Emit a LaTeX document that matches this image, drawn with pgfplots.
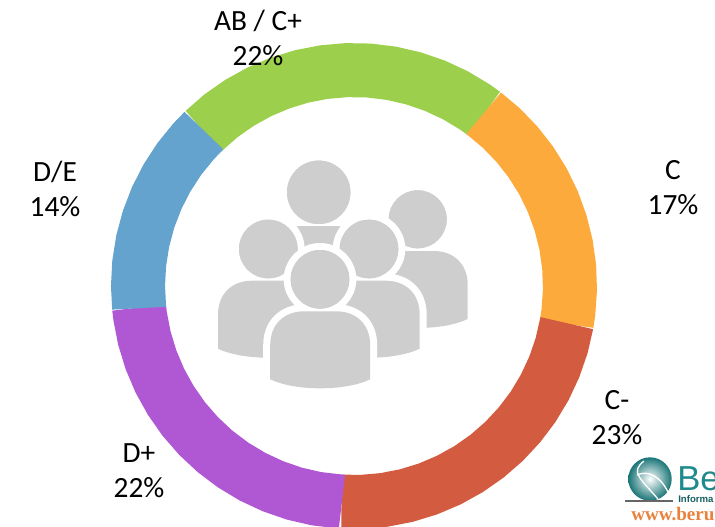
\documentclass[border=0pt]{standalone}
\usepackage{pgfplots}
\pgfplotsset{compat=1.18}
\usepgfplotslibrary{polar}
\usepackage{fontspec}
\setmainfont{Carlito}
\newfontfamily\logofont{Liberation Sans}
\newfontfamily\logoserif{Liberation Serif}

\definecolor{ringgreen}{HTML}{9CCF4C}
\definecolor{ringorange}{HTML}{FDAA3C}
\definecolor{ringred}{HTML}{D35B3F}
\definecolor{ringpurple}{HTML}{B058D4}
\definecolor{ringblue}{HTML}{64A3CE}
\definecolor{icongray}{HTML}{CECECE}
\definecolor{logoteal}{HTML}{1F8A8C}
\definecolor{logoorange}{HTML}{E8823C}

% one person of the icon: body centre, body top, head x, y, radius
\newcommand{\person}[5]{%
  \path[fill=icongray,preaction={draw=white,line width=10.5pt}]
    (#1-50,#2+68) -- (#1-50,#2+34)
    .. controls (#1-50,#2+13) and (#1-36,#2) .. (#1-16,#2)
    -- (#1+16,#2)
    .. controls (#1+36,#2) and (#1+50,#2+13) .. (#1+50,#2+34)
    -- (#1+50,#2+68)
    .. controls (#1+25,#2+80) and (#1-25,#2+80) .. cycle
    (#3,#4) circle (#5);
  \fill[icongray] (#3,#4) circle (#5);
}

\begin{document}
\begin{tikzpicture}
\useasboundingbox (0,0) rectangle (536.25pt,-394.5pt);
\clip (0,0) rectangle (536.25pt,-394.5pt);

\begin{polaraxis}[
  at={(265.5pt,-214.5pt)},
  anchor=center,
  scale only axis,
  width=364.5pt,
  height=364.5pt,
  xmin=0,xmax=360,
  ymin=0,ymax=243,
  hide axis,
  clip=false]
\addplot[no marks,ringgreen,line width=40.5pt] coordinates {
(134.2,216) (128,216) (122,216) (116,216) (110,216) (104,216) (98,216) (92,216)
(86,216) (80,216) (74,216) (68,216) (62,216) (56,216) (52.9,216)};
\addplot[no marks,ringorange,line width=40.5pt] coordinates {
(53.1,216) (47,216) (41,216) (35,216) (29,216) (23,216) (17,216) (11,216)
(5,216) (-1,216) (-7,216) (-10.1,216)};
\addplot[no marks,ringred,line width=40.5pt] coordinates {
(350.1,216) (344,216) (338,216) (332,216) (326,216) (320,216) (314,216) (308,216)
(302,216) (296,216) (290,216) (284,216) (278,216) (272,216) (266.7,216)};
\addplot[no marks,ringpurple,line width=40.5pt] coordinates {
(266.8,216) (260,216) (254,216) (248,216) (242,216) (236,216) (230,216) (224,216)
(218,216) (212,216) (206,216) (200,216) (194,216) (188,216) (185.7,216)};
\addplot[no marks,ringblue,line width=40.5pt] coordinates {
(185.9,216) (180,216) (174,216) (168,216) (162,216) (156,216) (150,216) (144,216)
(138,216) (134,216)};
\end{polaraxis}

\begin{scope}[x=0.75pt,y=-0.75pt]
% people icon, back to front
\person{318.7}{226}{318.7}{192.3}{31.7}
\person{417.7}{251}{417.7}{219.3}{29}
\person{268}{280.7}{268.3}{249}{29.3}
\person{369.7}{280.7}{369}{249}{29.3}
\person{320.2}{311.3}{320}{279.3}{29.3}

% labels
\fontsize{22}{26.25}\selectfont
\node[align=center,inner sep=0pt] at (258,38) {AB / C+\\22\%};
\node[align=center,inner sep=0pt] at (673,188) {C\\17\%};
\node[align=center,inner sep=0pt] at (617,418) {C-\\23\%};
\node[align=center,inner sep=0pt] at (139,471) {D+\\22\%};
\node[align=center,inner sep=0pt] at (55,189) {D/E\\14\%};

% logo in the corner
\shade[inner color=white,outer color=logoteal!85!black] (650,479) circle (21.7);
\draw[white,line width=1pt] (644,461) .. controls (630,472) and (640,478) .. (658,499);
\draw[white,line width=1pt] (637,475) .. controls (648,470) and (660,476) .. (668,492);
\draw[black!60,line width=0.8pt] (625,501) -- (673,501);
\node[anchor=base west,inner sep=0pt,text=logoteal,font=\logofont\fontsize{26}{26}\selectfont] at (677,490) {Be};
\node[anchor=base west,inner sep=0pt,text=logoteal!70!black,font=\logofont\bfseries\fontsize{7.2}{8}\selectfont] at (678,502) {Informa};
\node[anchor=base west,inner sep=0pt,text=logoorange,font=\logoserif\bfseries\fontsize{14.3}{15}\selectfont] at (631,520) {www.beru};
\end{scope}
\end{tikzpicture}
\end{document}
